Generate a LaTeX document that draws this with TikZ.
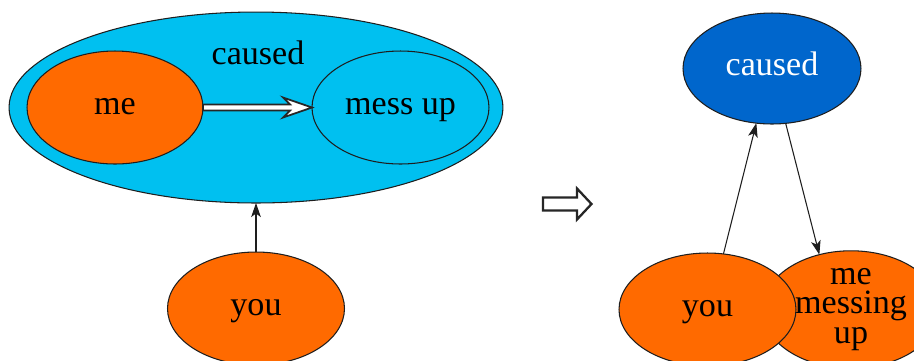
\documentclass[tikz,border=0pt]{standalone}
\usepackage{fontspec}
\setmainfont{Liberation Serif}
\usetikzlibrary{shapes.geometric,arrows.meta,calc}
\definecolor{orangefill}{RGB}{255,106,0}
\definecolor{cyanfill}{RGB}{0,192,240}
\definecolor{bluefill}{RGB}{0,102,204}
\definecolor{edge}{RGB}{30,30,30}
\tikzset{
  blob/.style={ellipse, draw=edge, line width=0.6pt, inner sep=0pt, outer sep=0pt,
    font=\fontsize{19.4}{17}\selectfont},
  oneline/.style={text height=12pt, text depth=4pt},
  small/.style={minimum width=3.54cm, minimum height=2.26cm},
  word/.style={inner sep=0pt, font=\fontsize{19.4}{20}\selectfont, text height=12pt, text depth=4pt},
  conn/.style={draw=edge, line width=0.6pt, -{Stealth[length=8pt, width=5.5pt, inset=2pt]}},
  hollow/.style={draw=black!85, line width=1pt, fill=white, line join=miter}
}
\begin{document}
\begin{tikzpicture}[x=0.02cm, y=-0.02cm]
  \useasboundingbox (0,0) rectangle (914,360);
  \fill[white] (0,0) rectangle (914,360);
  \clip (0,0) rectangle (914,360);

  % left: the whole event as one nested ellipse
  \node[blob, fill=cyanfill, minimum width=9.88cm, minimum height=3.82cm] (big) at (256,107.5) {};
  \node[blob, oneline, fill=orangefill, minimum width=3.52cm, minimum height=2.26cm] (me) at (115,107.5) {me};
  \node[blob, oneline, fill=cyanfill, small] (messup) at (400.5,107.5) {mess up};
  \node[word] (causedlabel) at (258,57) {caused};
  \node[blob, oneline, fill=orangefill, small] (you) at (256,308.5) {you};

  % hollow arrow from "me" to "mess up"
  \draw[hollow] ($(me.east)+(0,-3)$) -- ($(messup.west)+(-22,-3)$)
    -- ($(messup.west)+(-29,-10)$) -- (messup.west)
    -- ($(messup.west)+(-29,10)$) -- ($(messup.west)+(-22,3)$)
    -- ($(me.east)+(0,3)$) -- cycle;

  \draw[conn] (you.north) -- (big.south);

  % middle: rewriting symbol
  \draw[hollow, line width=1.3pt] (543,197.5) -- (577,197.5) -- (577,188.5) -- (591.5,204)
    -- (577,219.5) -- (577,210.5) -- (543,210.5) -- cycle;

  % right: flattened graph
  \node[blob, oneline, fill=bluefill, text=white, minimum width=3.56cm, minimum height=2.22cm] (caused) at (772,68.5) {caused};
  \node[blob, fill=orangefill, small, align=center] (mess) at (851,309.5) {me\\messing\\up};
  \node[blob, oneline, fill=orangefill, small] (you2) at (707.5,309.5) {you};

  \draw[conn] (you2.74) -- (caused.-106);
  \draw[conn] (caused.-76) -- (mess.120);
\end{tikzpicture}
\end{document}
